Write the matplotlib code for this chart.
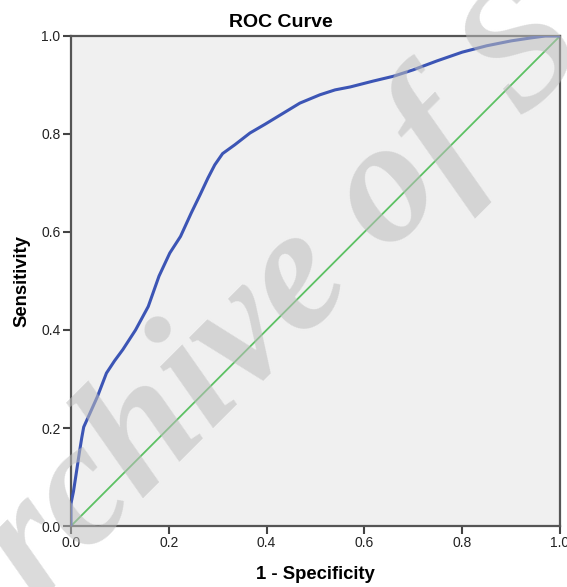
import matplotlib.pyplot as plt

# ROC curve
fpr = [0, 0, 0.005, 0.0096, 0.017, 0.022, 0.026, 0.036, 0.054, 0.0725, 0.089,
       0.106, 0.132, 0.158, 0.18, 0.202, 0.224, 0.246, 0.264, 0.28, 0.294,
       0.31, 0.335, 0.366, 0.397, 0.43, 0.468, 0.509, 0.54, 0.571, 0.618,
       0.66, 0.70, 0.748, 0.80, 0.85, 0.9, 0.94, 0.97, 1.0]
tpr = [0, 0.046, 0.07, 0.10, 0.149, 0.18, 0.202, 0.224, 0.264, 0.312, 0.337,
       0.36, 0.40, 0.448, 0.51, 0.557, 0.591, 0.639, 0.676, 0.71, 0.737,
       0.76, 0.778, 0.802, 0.82, 0.84, 0.863, 0.88, 0.89, 0.896, 0.908,
       0.918, 0.931, 0.949, 0.967, 0.98, 0.99, 0.996, 1.0, 1.0]
ref_line = [0, 1]
ticks = [0.0, 0.2, 0.4, 0.6, 0.8, 1.0]
tick_labels = ["0.0", "0.2", "0.4", "0.6", "0.8", "1.0"]

plt.rcParams['font.family'] = ['Liberation Sans', 'DejaVu Sans']

fig = plt.figure(figsize=(5.67, 5.87), dpi=100)
ax = fig.add_axes([0.1252, 0.1039, 0.8625, 0.8348])
ax.set_facecolor('#F0F0F0')

ax.plot(ref_line, ref_line, color='#5CC163', lw=1.3, zorder=2)
ax.plot(fpr, tpr, color='#3C55B5', lw=2.2, zorder=3)

ax.set_xlim(0, 1)
ax.set_ylim(0, 1)
ax.set_xticks(ticks)
ax.set_xticklabels(tick_labels)
ax.set_yticks(ticks)
ax.set_yticklabels(tick_labels)
ax.tick_params(direction='out', length=5.5, width=1.5, color='#444444',
               labelsize=10, labelcolor='#222222', pad=2)
for s in ax.spines.values():
    s.set_color('#555555')
    s.set_linewidth(1.6)

# title sits centred on the figure, not the axes
fig.text(281 / 567, 1 - 27 / 587, "ROC Curve", fontsize=14, fontweight='bold',
         ha='center', va='baseline')
ax.set_xlabel("1 - Specificity", fontsize=13.3, fontweight='bold')
ax.xaxis.set_label_coords(0.5, -0.082)
ax.set_ylabel("Sensitivity", fontsize=13.3, fontweight='bold')
ax.yaxis.set_label_coords(-0.083, 0.5)

# faint watermark across the figure
fig.text(0.555, 0.531, "Archive of SID", fontsize=127, family='Liberation Serif',
         style='italic', fontweight='bold', color='#BDBDBD', alpha=0.55,
         rotation=45, rotation_mode='anchor', ha='center', va='center', zorder=10)

fig.savefig("out.png", dpi=100)
